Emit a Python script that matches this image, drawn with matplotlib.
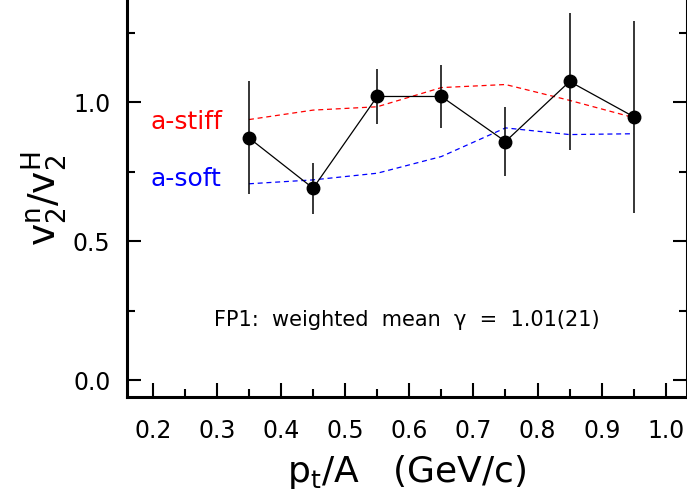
import matplotlib
matplotlib.use("Agg")
import matplotlib.pyplot as plt
from matplotlib.ticker import MultipleLocator

# data
pt = [0.35, 0.45, 0.55, 0.65, 0.75, 0.85, 0.95]
ratio = [0.871, 0.690, 1.020, 1.020, 0.858, 1.074, 0.947]
ratio_err = [0.203, 0.092, 0.100, 0.112, 0.125, 0.247, 0.345]
stiff = [0.937, 0.971, 0.983, 1.052, 1.063, 1.006, 0.944]
soft = [0.706, 0.720, 0.744, 0.804, 0.907, 0.883, 0.886]

plt.rcParams['font.family'] = ['DejaVu Sans']

fig = plt.figure(figsize=(6.87, 4.92), dpi=100)
ax = fig.add_axes([0.185, 0.193, 0.815, 0.807])

ax.plot(pt, stiff, color='red', ls=(0, (4, 3)), lw=0.9)
ax.plot(pt, soft, color='blue', ls=(0, (4, 3)), lw=0.9)
ax.errorbar(pt, ratio, yerr=ratio_err, fmt='o-', color='black', ms=9,
            lw=0.9, elinewidth=1.1, capsize=0)

ax.text(0.197, 0.928, 'a-stiff', color='red', fontsize=18, va='center')
ax.text(0.197, 0.722, 'a-soft', color='blue', fontsize=18, va='center')
ax.text(0.296, 0.215, 'FP1:  weighted  mean  γ  =  1.01(21)',
        fontsize=15, va='center')

ax.set_xlim(0.160, 1.033)
ax.set_ylim(-0.061, 1.367)
ax.xaxis.set_major_locator(MultipleLocator(0.1))
ax.xaxis.set_minor_locator(MultipleLocator(0.05))
ax.yaxis.set_major_locator(MultipleLocator(0.5))
ax.yaxis.set_minor_locator(MultipleLocator(0.25))
ax.xaxis.set_major_formatter(plt.FuncFormatter(lambda v, p: '%.1f' % v))
ax.yaxis.set_major_formatter(plt.FuncFormatter(lambda v, p: '%.1f' % v))

ax.spines['top'].set_visible(False)
for s in ['left', 'bottom', 'right']:
    ax.spines[s].set_linewidth(2.2)
ax.tick_params(which='both', direction='in', right=True, top=False,
               width=1.5, labelsize=17)
ax.tick_params(axis='x', which='major', length=10, pad=16)
ax.tick_params(axis='y', which='major', length=10, pad=12)
ax.tick_params(which='minor', length=6)

ax.set_xlabel('p$_{\\rm t}$/A   (GeV/c)', fontsize=26, labelpad=7)
ax.set_ylabel('v$_2^{\\rm n}$/v$_2^{\\rm H}$', fontsize=27, labelpad=2)

fig.savefig('out.png', dpi=100)
